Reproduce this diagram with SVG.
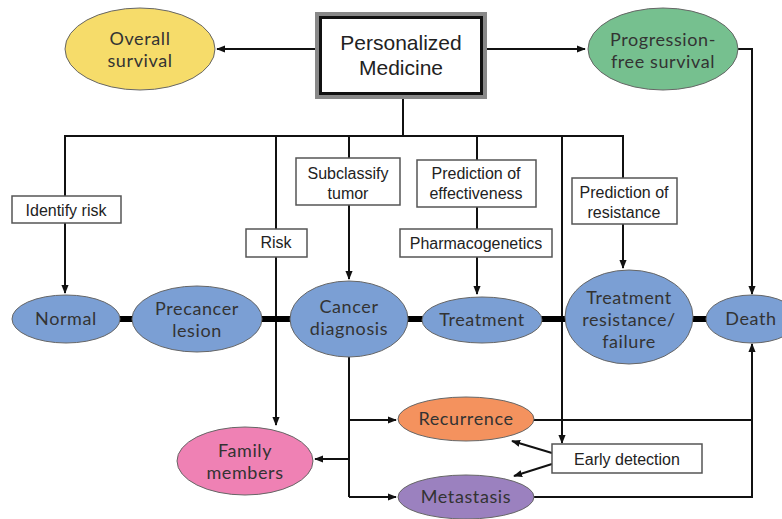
<svg xmlns="http://www.w3.org/2000/svg" width="782" height="519" viewBox="0 0 782 519">
<defs>
<marker id="ah" viewBox="0 0 10 10" refX="9" refY="5" markerWidth="9" markerHeight="9" markerUnits="userSpaceOnUse" orient="auto">
<path d="M0,1 L10,5 L0,9 z" fill="#111"/>
</marker>
<style>
.bg{fill:#fff}
.ln{stroke:#111;stroke-width:2;fill:none}
.ar{stroke:#111;stroke-width:2;fill:none;marker-end:url(#ah)}
.thick{stroke:#000;stroke-width:6;fill:none}
.box{fill:#fff;stroke:#555;stroke-width:1.5}
.el{stroke:#666;stroke-width:1}
.bt{font-family:"Liberation Sans",Arial,sans-serif;font-size:16px;fill:#222;text-anchor:middle}
.et{font-family:Lato,"Noto Sans",sans-serif;font-size:18px;letter-spacing:0.6px;fill:#333;text-anchor:middle}
.tt{font-family:"Liberation Sans",Arial,sans-serif;font-size:21px;fill:#222;text-anchor:middle}
</style>
</defs>
<rect class="bg" x="0" y="0" width="782" height="519"/>

<g id="connectors">
<line class="ar" x1="315" y1="49" x2="217" y2="49"/>
<line class="ar" x1="487" y1="49" x2="585" y2="49"/>
<polyline class="ar" points="738,49 752,49 752,294"/>
<line class="ln" x1="403" y1="98" x2="403" y2="136"/>
<line class="ln" x1="64" y1="136" x2="624" y2="136"/>
<line class="ar" x1="65" y1="135" x2="65" y2="293"/>
<line class="ar" x1="276" y1="135" x2="276" y2="425"/>
<line class="ar" x1="349" y1="135" x2="349" y2="279"/>
<line class="ar" x1="477" y1="135" x2="477" y2="294"/>
<line class="ar" x1="562" y1="135" x2="562" y2="443"/>
<line class="ar" x1="623" y1="135" x2="623" y2="268"/>
<line class="thick" x1="119" y1="319" x2="134" y2="319"/>
<line class="thick" x1="261" y1="319" x2="291" y2="319"/>
<line class="thick" x1="407" y1="319" x2="423" y2="319"/>
<line class="thick" x1="541" y1="319" x2="566" y2="319"/>
<line class="thick" x1="692" y1="319" x2="708" y2="319"/>
<line class="ln" x1="349" y1="357" x2="349" y2="497"/>
<line class="ar" x1="349" y1="420" x2="396" y2="420"/>
<line class="ar" x1="349" y1="459" x2="315" y2="459"/>
<line class="ar" x1="349" y1="497" x2="396" y2="497"/>
<polyline class="ln" points="533,420 752,420"/>
<polyline class="ar" points="533,497 752,497 752,344"/>
<line class="ar" x1="552" y1="453" x2="512" y2="441"/>
<line class="ar" x1="552" y1="464" x2="514" y2="476"/>
</g>

<g id="personalized-medicine">
<rect x="317" y="14" width="168" height="83" fill="#fff" stroke="#888" stroke-width="4"/>
<rect x="320.5" y="17.5" width="161" height="76" fill="none" stroke="#111" stroke-width="3"/>
<text class="tt" x="401" y="50">Personalized</text>
<text class="tt" x="401" y="75">Medicine</text>
</g>

<g id="overall-survival">
<ellipse class="el" cx="140" cy="49" rx="75" ry="41" fill="#f6dc6a"/>
<text class="et" x="140" y="45">Overall</text>
<text class="et" x="140" y="67">survival</text>
</g>

<g id="progression-free-survival">
<ellipse class="el" cx="663" cy="49" rx="75" ry="41" fill="#76c08f"/>
<text class="et" x="663" y="46">Progression-</text>
<text class="et" x="663" y="68">free survival</text>
</g>

<g id="identify-risk">
<rect class="box" x="12" y="196" width="109" height="27"/>
<text class="bt" x="66" y="216">Identify risk</text>
</g>
<g id="risk">
<rect class="box" x="246" y="229" width="61" height="28"/>
<text class="bt" x="276" y="248">Risk</text>
</g>
<g id="subclassify-tumor">
<rect class="box" x="296" y="158" width="104" height="47"/>
<text class="bt" x="348" y="179">Subclassify</text>
<text class="bt" x="348" y="199">tumor</text>
</g>
<g id="prediction-of-effectiveness">
<rect class="box" x="417" y="160" width="119" height="47"/>
<text class="bt" x="476" y="179">Prediction of</text>
<text class="bt" x="476" y="199">effectiveness</text>
</g>
<g id="pharmacogenetics">
<rect class="box" x="400" y="229" width="152" height="28"/>
<text class="bt" x="476" y="249">Pharmacogenetics</text>
</g>
<g id="prediction-of-resistance">
<rect class="box" x="572" y="178" width="105" height="46"/>
<text class="bt" x="624" y="198">Prediction of</text>
<text class="bt" x="624" y="218">resistance</text>
</g>

<g id="normal">
<ellipse class="el" cx="66" cy="319" rx="54" ry="24" fill="#7b9fd4"/>
<text class="et" x="66" y="325">Normal</text>
</g>
<g id="precancer-lesion">
<ellipse class="el" cx="197" cy="319" rx="65" ry="33" fill="#7b9fd4"/>
<text class="et" x="197" y="315">Precancer</text>
<text class="et" x="197" y="337">lesion</text>
</g>
<g id="cancer-diagnosis">
<ellipse class="el" cx="349" cy="319" rx="59" ry="38" fill="#7b9fd4"/>
<text class="et" x="349" y="313">Cancer</text>
<text class="et" x="349" y="335">diagnosis</text>
</g>
<g id="treatment">
<ellipse class="el" cx="482" cy="320" rx="60" ry="23" fill="#7b9fd4"/>
<text class="et" x="482" y="326">Treatment</text>
</g>
<g id="treatment-resistance">
<ellipse class="el" cx="629" cy="317" rx="64" ry="47" fill="#7b9fd4"/>
<text class="et" x="629" y="304">Treatment</text>
<text class="et" x="629" y="326">resistance/</text>
<text class="et" x="629" y="348">failure</text>
</g>
<g id="death">
<ellipse class="el" cx="752" cy="319" rx="46" ry="24" fill="#7b9fd4"/>
<text class="et" x="751" y="325">Death</text>
</g>

<g id="family-members">
<ellipse class="el" cx="245" cy="461" rx="68" ry="34" fill="#ef81b4"/>
<text class="et" x="245" y="457">Family</text>
<text class="et" x="245" y="479">members</text>
</g>
<g id="recurrence">
<ellipse class="el" cx="466" cy="419" rx="68" ry="22" fill="#f4925e"/>
<text class="et" x="466" y="425">Recurrence</text>
</g>
<g id="metastasis">
<ellipse class="el" cx="466" cy="497" rx="68" ry="22" fill="#9b81bf"/>
<text class="et" x="466" y="503">Metastasis</text>
</g>
<g id="early-detection">
<rect class="box" x="552" y="444" width="150" height="29"/>
<text class="bt" x="627" y="465">Early detection</text>
</g>
</svg>
